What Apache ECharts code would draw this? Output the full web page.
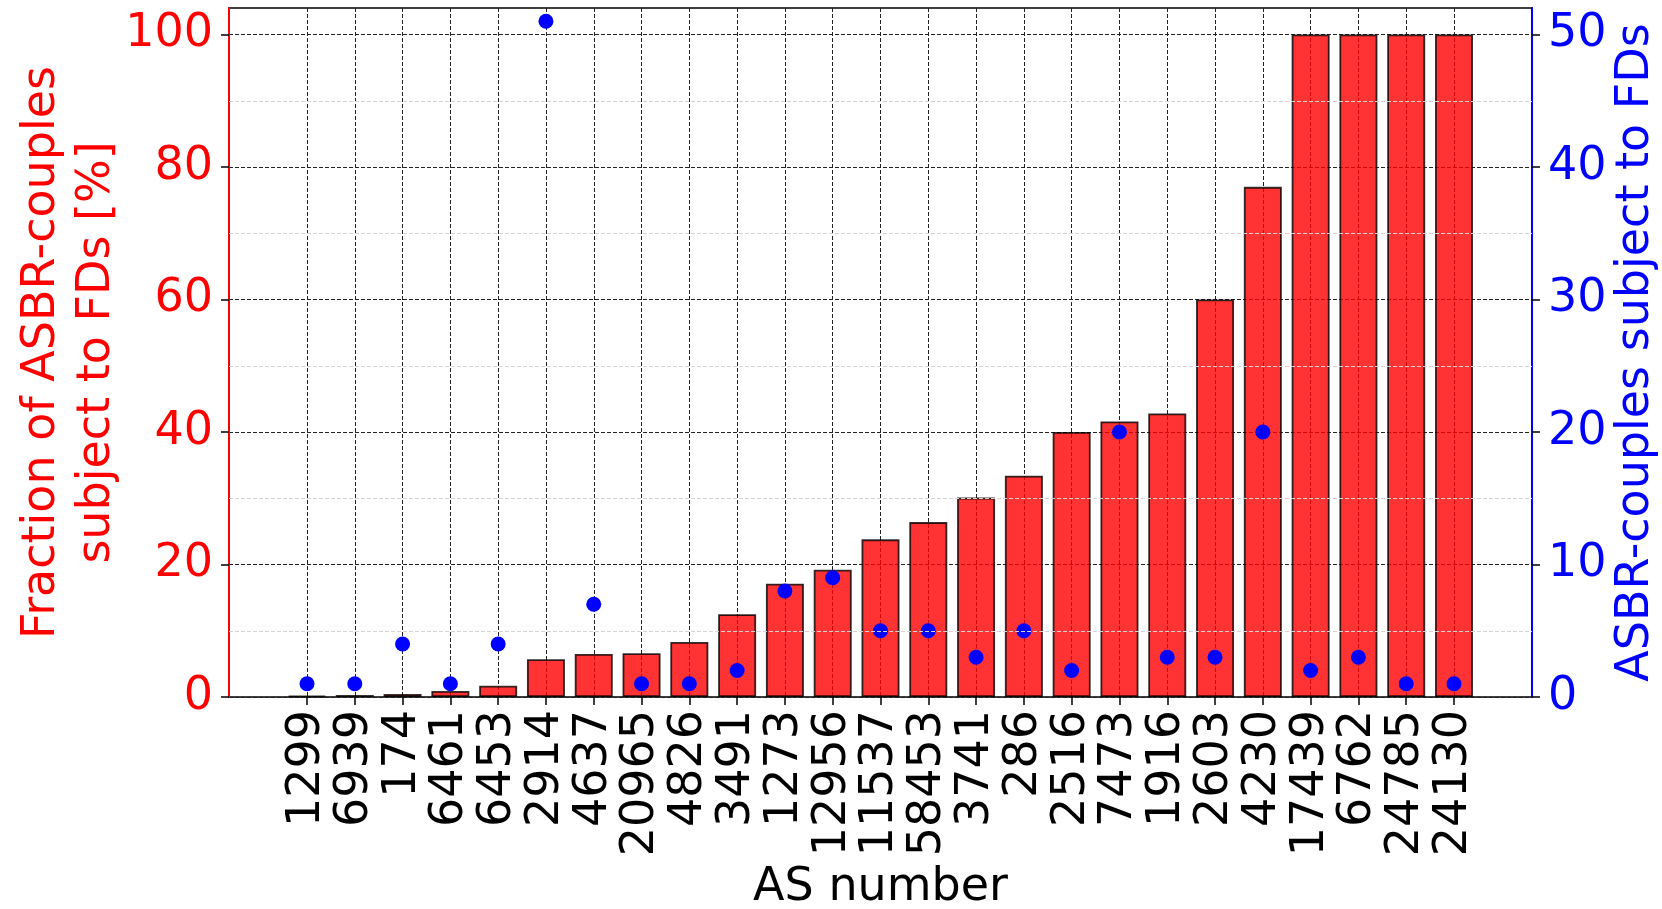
<!DOCTYPE html>
<html><head><meta charset="utf-8">
<script src="https://cdn.jsdelivr.net/npm/echarts@6/dist/echarts.min.js"></script>
<style>html,body{margin:0;padding:0;background:#fff}#c{width:1662px;height:909px}</style>
</head><body><div id="c"></div>
<script>
const categories = ['1299','6939','174','6461','6453','2914','4637','20965','4826','3491','1273','12956','11537','58453','3741','286','2516','7473','1916','2603','4230','17439','6762','24785','24130'];
const fractionPct = [0.2,0.3,0.45,0.9,1.7,5.7,6.5,6.6,8.3,12.5,17.1,19.2,23.8,26.4,30.1,33.4,40.0,41.6,42.8,60.0,77.0,100,100,100,100];
const asbrCouples = [1,1,4,1,4,51,7,1,1,2,8,9,5,5,3,5,2,20,3,3,20,2,3,1,1];
const leftTicks = [0,20,40,60,80,100];
const rightTicks = [0,10,20,30,40,50];
const minorLeft = [10,30,50,70,90];
const LEFT_MAX = 104, RIGHT_MAX = 52;

const FONT = 'DejaVu Sans';
const FS = 46;
const chart = echarts.init(document.getElementById('c'), null, {renderer:'canvas'});
const dash = {color:'#222', width:1, type:[4,2]};

chart.setOption({
  animation:false,
  backgroundColor:'#fff',
  grid:[
    {left:229, right:130, top:8, bottom:212, show:true, borderColor:'#000', borderWidth:1.5, backgroundColor:'transparent', containLabel:false, outerBoundsMode:'none'},
    {left:307, right:1662-1454, top:8, bottom:212, containLabel:false, outerBoundsMode:'none'}
  ],
  xAxis:[
    {gridIndex:0, type:'value', min:0, max:1, axisLine:{show:false}, axisTick:{show:false}, axisLabel:{show:false}, splitLine:{show:false},
     name:'AS number', nameLocation:'middle', nameGap:168, nameMoveOverlap:false, nameTextStyle:{fontFamily:FONT, fontSize:FS, color:'#000'}},
    {gridIndex:1, type:'category', data:categories, boundaryGap:false,
     axisLine:{show:false},
     axisTick:{show:true, length:8, lineStyle:{color:'#000', width:1.5}, interval:0},
     axisLabel:{rotate:90, interval:0, margin:13, fontFamily:FONT, fontSize:FS, color:'#000'},
     splitLine:{show:true, interval:0, lineStyle:dash}}
  ],
  yAxis:[
    {gridIndex:0, type:'value', position:'left', min:0, max:LEFT_MAX, interval:20,
     axisLine:{show:true, lineStyle:{color:'#ff0000', width:2}},
     axisTick:{show:true, length:8, lineStyle:{color:'#000', width:1.5}, customValues:leftTicks},
     axisLabel:{fontFamily:FONT, fontSize:FS, color:'#ff0000', margin:16, customValues:leftTicks},
     splitLine:{show:true, lineStyle:dash},
     name:'Fraction of ASBR-couples\nsubject to FDs [%]', nameLocation:'middle', nameRotate:90, nameGap:104, nameMoveOverlap:false,
     nameTextStyle:{fontFamily:FONT, fontSize:FS, color:'#ff0000', lineHeight:55, align:'center'}},
    {gridIndex:0, type:'value', position:'right', min:0, max:RIGHT_MAX, interval:10,
     axisLine:{show:true, lineStyle:{color:'#0000ff', width:2}},
     axisTick:{show:true, length:8, lineStyle:{color:'#000', width:1.5}, customValues:rightTicks},
     axisLabel:{fontFamily:FONT, fontSize:FS, color:'#0000ff', margin:16, customValues:rightTicks},
     splitLine:{show:false},
     name:'ASBR-couples subject to FDs', nameLocation:'middle', nameRotate:90, nameGap:81, nameMoveOverlap:false,
     nameTextStyle:{fontFamily:FONT, fontSize:FS, color:'#0000ff'}},
    {gridIndex:1, type:'value', min:0, max:LEFT_MAX, show:false},
    {gridIndex:1, type:'value', min:0, max:RIGHT_MAX, show:false}
  ],
  series:[
    {type:'line', xAxisIndex:0, yAxisIndex:0, data:[[0,0]], symbol:'none', lineStyle:{opacity:0}, silent:true, z:1,
     markLine:{silent:true, symbol:['none','none'], label:{show:false}, animation:false,
       lineStyle:{color:'#d4d4d4', width:1, type:[4,2]},
       data: minorLeft.map(v => ({yAxis:v}))}},
    {type:'bar', name:'fraction', xAxisIndex:1, yAxisIndex:2, data:fractionPct, barWidth:38, clip:false, z:2,
     itemStyle:{color:'#ff0000', opacity:0.8, borderColor:'#000', borderWidth:1.8}},
    {type:'scatter', name:'count', xAxisIndex:1, yAxisIndex:3, data:asbrCouples, symbol:'circle', symbolSize:15, clip:false, z:3,
     itemStyle:{color:'#0000ff', opacity:1}}
  ]
});
</script></body></html>
